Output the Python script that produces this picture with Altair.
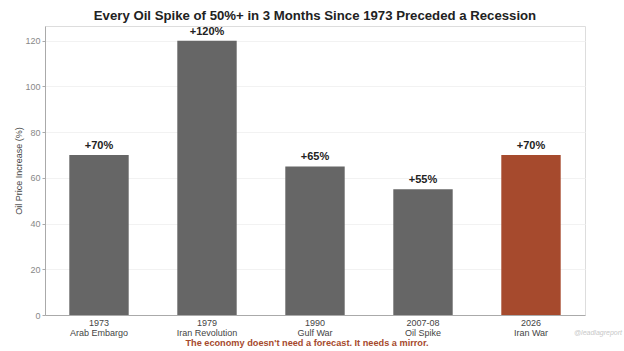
import altair as alt
import pandas as pd

years = ["1973", "1979", "1990", "2007-08", "2026"]
events = ["Arab Embargo", "Iran Revolution", "Gulf War", "Oil Spike", "Iran War"]
increases = [70, 120, 65, 55, 70]
labels = ["+70%", "+120%", "+65%", "+55%", "+70%"]
kinds = ["past", "past", "past", "past", "current"]

df = pd.DataFrame({
    "episode": [f"{y}\n{e}" for y, e in zip(years, events)],
    "increase": increases,
    "label": labels,
    "kind": kinds,
})

W, H = 540, 289
order = list(df["episode"])

x_enc = alt.X(
    "episode:N", sort=order, title=None,
    scale=alt.Scale(paddingInner=0.45, paddingOuter=0.225),
    axis=alt.Axis(
        labelExpr="split(datum.label, '\\n')", labelAngle=0,
        labelFontSize=9, labelColor="#444444", labelFont="Liberation Sans",
        labelLineHeight=10, labelPadding=3,
        ticks=False, domainColor="#aaaaaa", domainWidth=1,
    ),
)
y_enc = alt.Y(
    "increase:Q", title="Oil Price Increase (%)",
    scale=alt.Scale(domain=[0, 126.4], nice=False),
    axis=alt.Axis(
        values=[0, 20, 40, 60, 80, 100, 120],
        labelFontSize=9, labelColor="#888888", labelFont="Liberation Sans",
        tickSize=3, tickColor="#aaaaaa", labelPadding=2,
        domainColor="#aaaaaa", gridColor="#f2f2f2", grid=True,
        titleFontSize=9, titleFontWeight="normal", titleColor="#444444",
        titleFont="Liberation Sans", titleX=-27, titleY=H / 2,
        titleAngle=-90, titleAlign="center", titleBaseline="middle",
    ),
)

base = alt.Chart(df)

bars = base.mark_bar().encode(
    x=x_enc, y=y_enc,
    color=alt.Color("kind:N", scale=alt.Scale(domain=["past", "current"],
                                              range=["#666666", "#A64A2D"]),
                    legend=None),
)

text = base.mark_text(dy=-4, fontSize=11, fontWeight="bold",
                      font="Liberation Sans", color="#222222",
                      baseline="bottom").encode(
    x=alt.X("episode:N", sort=order), y="increase:Q", text="label:N")

footer = alt.Chart(pd.DataFrame({"t": ["The economy doesn't need a forecast. It needs a mirror."]})).mark_text(
    fontSize=9.2, fontWeight="bold", font="Liberation Sans", color="#A64A2D",
    baseline="middle", align="center",
).encode(x=alt.value(262), y=alt.value(H + 28), text="t:N")

mark = alt.Chart(pd.DataFrame({"t": ["@leadlagreport"]})).mark_text(
    fontSize=7, font="Liberation Sans", fontStyle="italic", color="#c8c8c8",
    baseline="middle", align="center",
).encode(x=alt.value(553), y=alt.value(H + 18), text="t:N")

chart = alt.layer(bars, text, footer, mark).properties(
    width=W, height=H,
    title=alt.TitleParams(
        "Every Oil Spike of 50%+ in 3 Months Since 1973 Preceded a Recession",
        fontSize=13.2, fontWeight="bold", font="Liberation Sans", color="#222222",
        anchor="middle", offset=2,
    ),
    autosize=alt.AutoSizeParams(type="none"),
    padding={"left": 45, "top": 26, "right": 39, "bottom": 36},
).configure_view(stroke=None).configure(background="white")

chart.save("out.html", embed_options={"renderer": "svg", "actions": False})
